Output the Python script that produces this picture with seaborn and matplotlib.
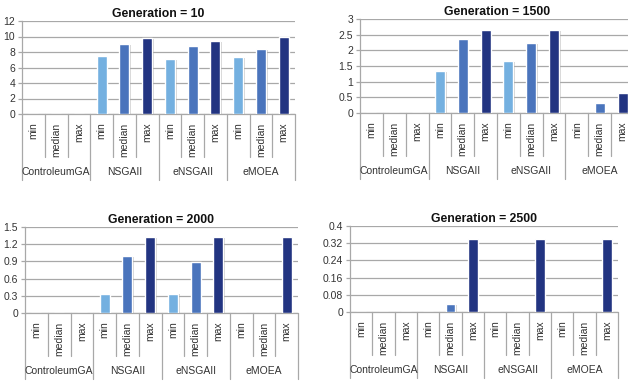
import matplotlib
matplotlib.use("Agg")
import matplotlib.pyplot as plt
import matplotlib.patheffects as pe
from matplotlib.transforms import blended_transform_factory
import numpy as np
import pandas as pd
import seaborn as sns

# ---- data -------------------------------------------------------------
algorithms = ["ControleumGA", "NSGAII", "eNSGAII", "eMOEA"]
stats = ["min", "median", "max"]

gen_10 = [0, 0, 0, 7.5, 9.0, 9.75, 7.1, 8.75, 9.4, 7.35, 8.4, 10.0]
gen_1500 = [0, 0, 0, 1.35, 2.35, 2.65, 1.67, 2.22, 2.65, 0, 0.33, 0.65]
gen_2000 = [0, 0, 0, 0.34, 1.0, 1.33, 0.34, 0.89, 1.33, 0, 0, 1.33]
gen_2500 = [0, 0, 0, 0, 0.035, 0.34, 0, 0, 0.34, 0, 0, 0.34]

ticks_10 = [0, 2, 4, 6, 8, 10, 12]
ticks_1500 = [0, 0.5, 1, 1.5, 2, 2.5, 3]
ticks_2000 = [0, 0.3, 0.6, 0.9, 1.2, 1.5]
ticks_2500 = [0, 0.08, 0.16, 0.24, 0.32, 0.4]

labels_10 = ["0", "2", "4", "6", "8", "10", "12"]
labels_1500 = ["0", "0.5", "1", "1.5", "2", "2.5", "3"]
labels_2000 = ["0", "0.3", "0.6", "0.9", "1.2", "1.5"]
labels_2500 = ["0", "0.08", "0.16", "0.24", "0.32", "0.4"]

panels = [
    ("Generation = 10", gen_10, ticks_10, labels_10),
    ("Generation = 1500", gen_1500, ticks_1500, labels_1500),
    ("Generation = 2000", gen_2000, ticks_2000, labels_2000),
    ("Generation = 2500", gen_2500, ticks_2500, labels_2500),
]

# axes rectangles in pixels: left, top, width, height (figure is 628 x 383)
W, H = 628, 383
rects_px = [
    (22, 21, 273, 93),
    (360, 19, 274, 94),
    (25, 227, 273, 86),
    (350, 226, 268, 86),
]

palette = {"min": "#74B0E0", "median": "#4A74BC", "max": "#223481"}
grid_col = "#A8A8A8"
text_col = "#333333"

sns.set_theme(style="white")
plt.rcParams["font.family"] = ["Liberation Sans", "DejaVu Sans"]

fig = plt.figure(figsize=(W / 100, H / 100), dpi=100)

for (title, values, ticks, tick_labels), (lx, ty, wpx, hpx) in zip(panels, rects_px):
    ax = fig.add_axes([lx / W, (H - ty - hpx) / H, wpx / W, hpx / H])

    df = pd.DataFrame({
        "slot": [f"{a}|{s}" for a in algorithms for s in stats],
        "algorithm": np.repeat(algorithms, len(stats)),
        "stat": stats * len(algorithms),
        "value": values,
    })
    sns.barplot(data=df, x="slot", y="value", hue="stat", palette=palette,
                dodge=False, width=0.44, saturation=1, legend=False, ax=ax,
                zorder=3)
    for bar in ax.patches:
        bar.set_path_effects([
            pe.SimplePatchShadow(offset=(1.2, -0.6), shadow_rgbFace="#808080", alpha=0.35),
            pe.Normal(),
        ])

    n = len(df)
    ax.set_xlim(-0.5, n - 0.5)
    ax.set_ylim(ticks[0], ticks[-1])
    ax.set_yticks(ticks)
    ax.set_yticklabels(tick_labels)
    ax.set_xticks([])
    ax.set_xlabel("")
    ax.set_ylabel("")
    ax.grid(axis="y", color=grid_col, linewidth=0.9, zorder=0)
    ax.set_axisbelow(True)
    for side in ["top", "right", "bottom"]:
        ax.spines[side].set_visible(False)
    ax.spines["left"].set_color(grid_col)
    ax.spines["left"].set_linewidth(0.9)
    ax.tick_params(axis="y", length=3, width=0.9, color=grid_col, pad=2,
                   labelsize=7.5, labelcolor=text_col, left=True)
    ax.axhline(ticks[0], color=grid_col, linewidth=0.9, zorder=2, clip_on=False)

    ax.set_title(title, fontsize=8.8, fontweight="bold", color="#111111", pad=3)

    # category table under the axis
    f = lambda px: -px / hpx
    tr = blended_transform_factory(ax.transData, ax.transAxes)
    for k in range(n + 1):
        depth = 66 if k % 3 == 0 else 43
        ax.plot([k - 0.5, k - 0.5], [0, f(depth)], color=grid_col,
                linewidth=0.9, transform=tr, clip_on=False)
    for i, s in enumerate(df["stat"]):
        ax.text(i, f(8.5), s, rotation=90, ha="center", va="top", fontsize=7.5,
                color=text_col, transform=tr)
    for g, a in enumerate(algorithms):
        ax.text(3 * g + 1, f(58), a, ha="center", va="center", fontsize=7.5,
                color=text_col, transform=tr)

fig.savefig("out.png", dpi=100)
